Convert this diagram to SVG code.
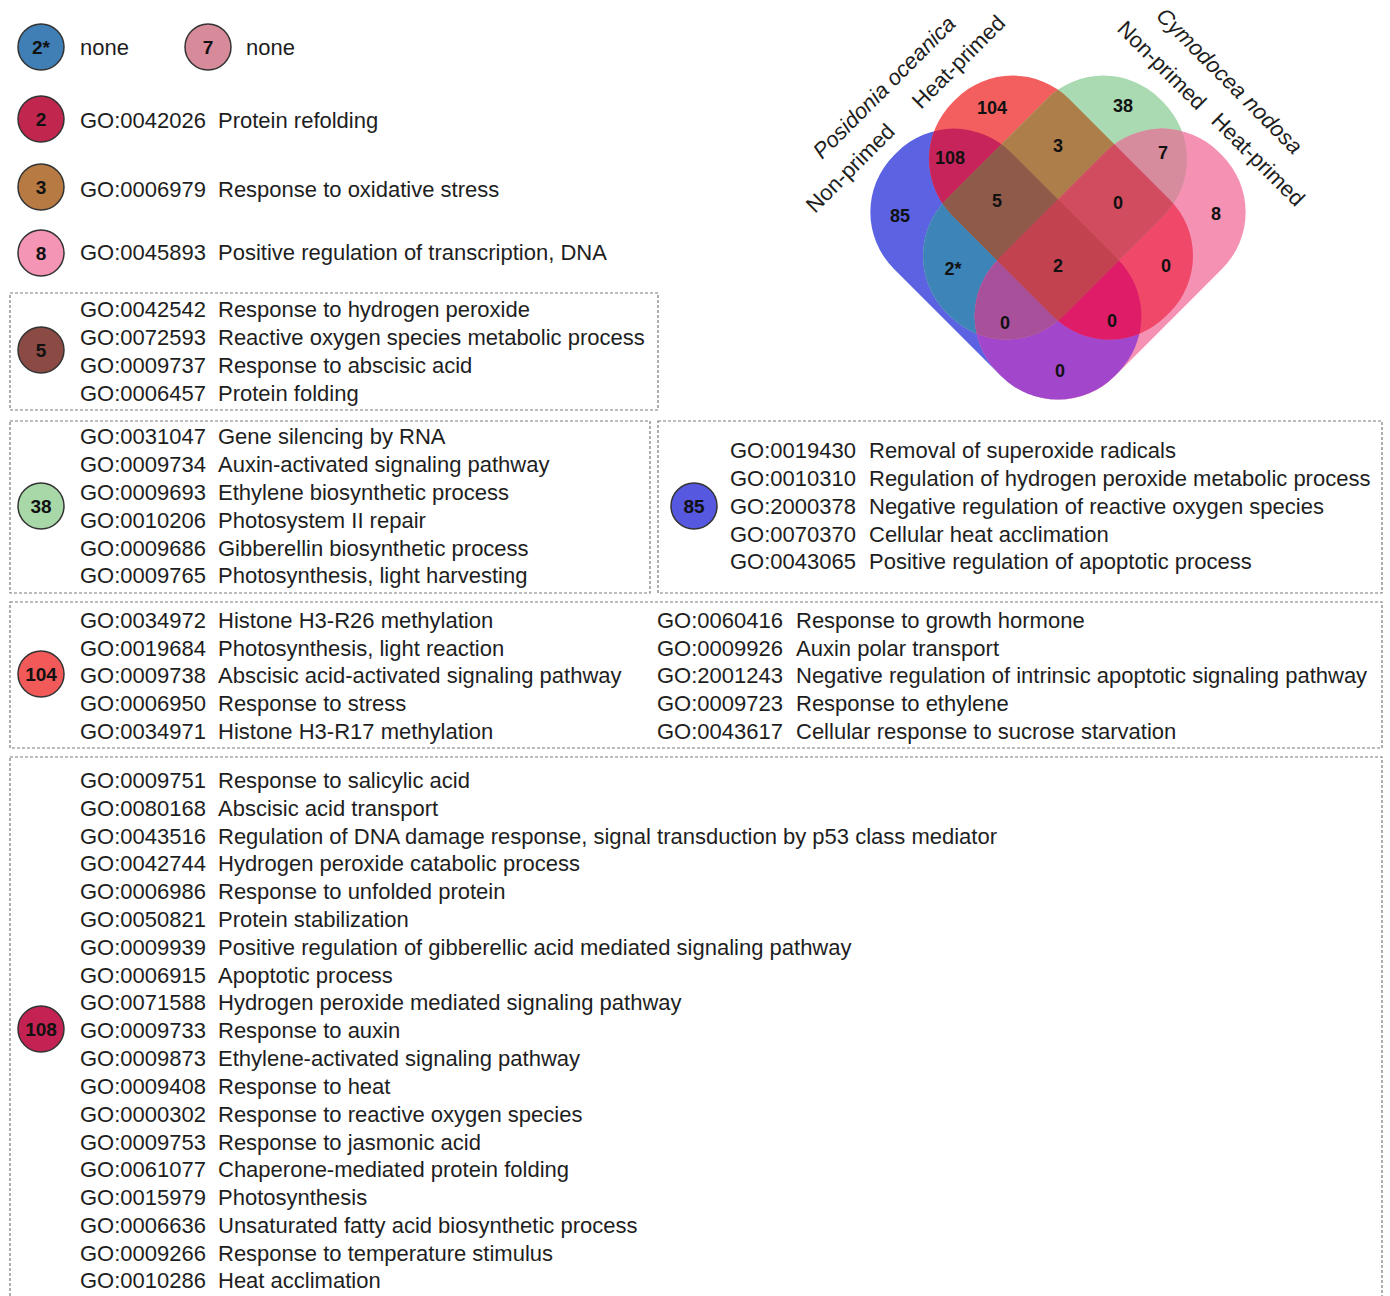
<svg xmlns="http://www.w3.org/2000/svg" xmlns:xlink="http://www.w3.org/1999/xlink" width="1390" height="1296" viewBox="0 0 1390 1296">
<style>
.t{font-family:"Liberation Sans",Arial,sans-serif;font-size:22px;fill:#1e1e1e}
.n{font-family:"Liberation Sans",Arial,sans-serif;font-weight:bold;font-size:19px;fill:#111;text-anchor:middle}
.v{font-family:"Liberation Sans",Arial,sans-serif;font-weight:bold;font-size:18px;fill:#111;text-anchor:middle}
.lab{font-family:"Liberation Sans",Arial,sans-serif;font-size:22px;fill:#1e1e1e}
.it{font-style:italic}
.box{fill:none;stroke:#7a7a7a;stroke-width:1.2;stroke-dasharray:3 2}
.c{stroke:#333;stroke-width:1.5}
</style>
<defs>
<rect id="sB" x="742" y="-607" width="312" height="165" rx="80" transform="rotate(45)"/>
<rect id="sR" x="746" y="-686" width="302" height="165" rx="80" transform="rotate(45)"/>
<rect id="sG" x="746" y="-686" width="302" height="165" rx="80" transform="translate(2116 0) scale(-1 1) rotate(45)"/>
<rect id="sP" x="742" y="-607" width="312" height="165" rx="80" transform="translate(2116 0) scale(-1 1) rotate(45)"/>
<clipPath id="cB"><use xlink:href="#sB"/></clipPath>
<clipPath id="cR"><use xlink:href="#sR"/></clipPath>
<clipPath id="cG"><use xlink:href="#sG"/></clipPath>
<clipPath id="cP"><use xlink:href="#sP"/></clipPath>
</defs>
<rect width="1390" height="1296" fill="#fff"/>

<g id="venn">
<g id="venn-regions">
<use xlink:href="#sB" fill="#5b63e3"/>
<use xlink:href="#sR" fill="#f35f5f"/>
<use xlink:href="#sG" fill="#a9dab1"/>
<use xlink:href="#sP" fill="#f592b4"/>
<g clip-path="url(#cB)"><use xlink:href="#sR" fill="#c8245c"/></g>
<g clip-path="url(#cB)"><use xlink:href="#sG" fill="#3d85b8"/></g>
<g clip-path="url(#cB)"><use xlink:href="#sP" fill="#a246cc"/></g>
<g clip-path="url(#cR)"><use xlink:href="#sG" fill="#ad7d4a"/></g>
<g clip-path="url(#cR)"><use xlink:href="#sP" fill="#ef4868"/></g>
<g clip-path="url(#cG)"><use xlink:href="#sP" fill="#d68c9c"/></g>
<g clip-path="url(#cB)"><g clip-path="url(#cR)"><use xlink:href="#sG" fill="#8f5a4a"/></g></g>
<g clip-path="url(#cB)"><g clip-path="url(#cR)"><use xlink:href="#sP" fill="#de1c68"/></g></g>
<g clip-path="url(#cB)"><g clip-path="url(#cG)"><use xlink:href="#sP" fill="#a9509a"/></g></g>
<g clip-path="url(#cR)"><g clip-path="url(#cG)"><use xlink:href="#sP" fill="#d04c5e"/></g></g>
<g clip-path="url(#cB)"><g clip-path="url(#cR)"><g clip-path="url(#cG)"><use xlink:href="#sP" fill="#c2424f"/></g></g></g>
</g>
<text class="v" x="992" y="114">104</text>
<text class="v" x="1123" y="112">38</text>
<text class="v" x="950" y="164">108</text>
<text class="v" x="1058" y="152">3</text>
<text class="v" x="1163" y="159">7</text>
<text class="v" x="900" y="222">85</text>
<text class="v" x="997" y="207">5</text>
<text class="v" x="1118" y="209">0</text>
<text class="v" x="1216" y="220">8</text>
<text class="v" x="953" y="275">2*</text>
<text class="v" x="1058" y="272">2</text>
<text class="v" x="1166" y="272">0</text>
<text class="v" x="1005" y="329">0</text>
<text class="v" x="1112" y="327">0</text>
<text class="v" x="1060" y="377">0</text>
<text class="lab it" transform="translate(822 160) rotate(-45)">Posidonia oceanica</text>
<text class="lab" transform="translate(815 214) rotate(-45)">Non-primed</text>
<text class="lab" transform="translate(921 110) rotate(-45)">Heat-primed</text>
<text class="lab it" transform="translate(1155 17) rotate(45)">Cymodocea nodosa</text>
<text class="lab" transform="translate(1116 30) rotate(45)">Non-primed</text>
<text class="lab" transform="translate(1210 122) rotate(45)">Heat-primed</text>
</g>

<g id="node-2star">
<circle class="c" cx="41" cy="47" r="23" fill="#3f7fb5"/>
<text class="n" x="41" y="54">2*</text>
<text class="t" x="80" y="55">none</text>
</g>
<g id="node-7">
<circle class="c" cx="208" cy="47" r="23" fill="#d68a9a"/>
<text class="n" x="208" y="54">7</text>
<text class="t" x="246" y="55">none</text>
</g>
<g id="node-2">
<circle class="c" cx="41" cy="119" r="23" fill="#c0264e"/>
<text class="n" x="41" y="126">2</text>
<text class="t" y="128"><tspan x="80">GO:0042026</tspan><tspan x="218">Protein refolding</tspan></text>
</g>
<g id="node-3">
<circle class="c" cx="41" cy="187" r="23" fill="#b77a42"/>
<text class="n" x="41" y="194">3</text>
<text class="t" y="197"><tspan x="80">GO:0006979</tspan><tspan x="218">Response to oxidative stress</tspan></text>
</g>
<g id="node-8">
<circle class="c" cx="41" cy="253" r="23" fill="#f595b5"/>
<text class="n" x="41" y="260">8</text>
<text class="t" y="260"><tspan x="80">GO:0045893</tspan><tspan x="218">Positive regulation of transcription, DNA</tspan></text>
</g>

<g id="node-5">
<rect class="box" x="10" y="293" width="648" height="117"/>
<circle class="c" cx="41" cy="350" r="23" fill="#8c4a45"/>
<text class="n" x="41" y="357">5</text>
<text class="t" y="317"><tspan x="80">GO:0042542</tspan><tspan x="218">Response to hydrogen peroxide</tspan></text>
<text class="t" y="345"><tspan x="80">GO:0072593</tspan><tspan x="218">Reactive oxygen species metabolic process</tspan></text>
<text class="t" y="373"><tspan x="80">GO:0009737</tspan><tspan x="218">Response to abscisic acid</tspan></text>
<text class="t" y="401"><tspan x="80">GO:0006457</tspan><tspan x="218">Protein folding</tspan></text>
</g>

<g id="node-38">
<rect class="box" x="10" y="421" width="640" height="172"/>
<circle class="c" cx="41" cy="506" r="23" fill="#a8d8a8"/>
<text class="n" x="41" y="513">38</text>
<text class="t" y="444"><tspan x="80">GO:0031047</tspan><tspan x="218">Gene silencing by RNA</tspan></text>
<text class="t" y="472"><tspan x="80">GO:0009734</tspan><tspan x="218">Auxin-activated signaling pathway</tspan></text>
<text class="t" y="500"><tspan x="80">GO:0009693</tspan><tspan x="218">Ethylene biosynthetic process</tspan></text>
<text class="t" y="528"><tspan x="80">GO:0010206</tspan><tspan x="218">Photosystem II repair</tspan></text>
<text class="t" y="556"><tspan x="80">GO:0009686</tspan><tspan x="218">Gibberellin biosynthetic process</tspan></text>
<text class="t" y="583"><tspan x="80">GO:0009765</tspan><tspan x="218">Photosynthesis, light harvesting</tspan></text>
</g>

<g id="node-85">
<rect class="box" x="658" y="421" width="724" height="172"/>
<circle class="c" cx="694" cy="506" r="23" fill="#5658e0"/>
<text class="n" x="694" y="513">85</text>
<text class="t" y="458"><tspan x="730">GO:0019430</tspan><tspan x="869">Removal of superoxide radicals</tspan></text>
<text class="t" y="486"><tspan x="730">GO:0010310</tspan><tspan x="869">Regulation of hydrogen peroxide metabolic process</tspan></text>
<text class="t" y="514"><tspan x="730">GO:2000378</tspan><tspan x="869">Negative regulation of reactive oxygen species</tspan></text>
<text class="t" y="542"><tspan x="730">GO:0070370</tspan><tspan x="869">Cellular heat acclimation</tspan></text>
<text class="t" y="569"><tspan x="730">GO:0043065</tspan><tspan x="869">Positive regulation of apoptotic process</tspan></text>
</g>

<g id="node-104">
<rect class="box" x="10" y="602" width="1372" height="146"/>
<circle class="c" cx="41" cy="674" r="23" fill="#f25a5a"/>
<text class="n" x="41" y="681">104</text>
<text class="t" y="628"><tspan x="80">GO:0034972</tspan><tspan x="218">Histone H3-R26 methylation</tspan></text>
<text class="t" y="656"><tspan x="80">GO:0019684</tspan><tspan x="218">Photosynthesis, light reaction</tspan></text>
<text class="t" y="683"><tspan x="80">GO:0009738</tspan><tspan x="218">Abscisic acid-activated signaling pathway</tspan></text>
<text class="t" y="711"><tspan x="80">GO:0006950</tspan><tspan x="218">Response to stress</tspan></text>
<text class="t" y="739"><tspan x="80">GO:0034971</tspan><tspan x="218">Histone H3-R17 methylation</tspan></text>
<text class="t" y="628"><tspan x="657">GO:0060416</tspan><tspan x="796">Response to growth hormone</tspan></text>
<text class="t" y="656"><tspan x="657">GO:0009926</tspan><tspan x="796">Auxin polar transport</tspan></text>
<text class="t" y="683"><tspan x="657">GO:2001243</tspan><tspan x="796">Negative regulation of intrinsic apoptotic signaling pathway</tspan></text>
<text class="t" y="711"><tspan x="657">GO:0009723</tspan><tspan x="796">Response to ethylene</tspan></text>
<text class="t" y="739"><tspan x="657">GO:0043617</tspan><tspan x="796">Cellular response to sucrose starvation</tspan></text>
</g>

<g id="node-108">
<rect class="box" x="10" y="757" width="1372" height="560"/>
<circle class="c" cx="41" cy="1029" r="23" fill="#c42252"/>
<text class="n" x="41" y="1036">108</text>
<text class="t" y="788"><tspan x="80">GO:0009751</tspan><tspan x="218">Response to salicylic acid</tspan></text>
<text class="t" y="816"><tspan x="80">GO:0080168</tspan><tspan x="218">Abscisic acid transport</tspan></text>
<text class="t" y="844"><tspan x="80">GO:0043516</tspan><tspan x="218">Regulation of DNA damage response, signal transduction by p53 class mediator</tspan></text>
<text class="t" y="871"><tspan x="80">GO:0042744</tspan><tspan x="218">Hydrogen peroxide catabolic process</tspan></text>
<text class="t" y="899"><tspan x="80">GO:0006986</tspan><tspan x="218">Response to unfolded protein</tspan></text>
<text class="t" y="927"><tspan x="80">GO:0050821</tspan><tspan x="218">Protein stabilization</tspan></text>
<text class="t" y="955"><tspan x="80">GO:0009939</tspan><tspan x="218">Positive regulation of gibberellic acid mediated signaling pathway</tspan></text>
<text class="t" y="983"><tspan x="80">GO:0006915</tspan><tspan x="218">Apoptotic process</tspan></text>
<text class="t" y="1010"><tspan x="80">GO:0071588</tspan><tspan x="218">Hydrogen peroxide mediated signaling pathway</tspan></text>
<text class="t" y="1038"><tspan x="80">GO:0009733</tspan><tspan x="218">Response to auxin</tspan></text>
<text class="t" y="1066"><tspan x="80">GO:0009873</tspan><tspan x="218">Ethylene-activated signaling pathway</tspan></text>
<text class="t" y="1094"><tspan x="80">GO:0009408</tspan><tspan x="218">Response to heat</tspan></text>
<text class="t" y="1122"><tspan x="80">GO:0000302</tspan><tspan x="218">Response to reactive oxygen species</tspan></text>
<text class="t" y="1150"><tspan x="80">GO:0009753</tspan><tspan x="218">Response to jasmonic acid</tspan></text>
<text class="t" y="1177"><tspan x="80">GO:0061077</tspan><tspan x="218">Chaperone-mediated protein folding</tspan></text>
<text class="t" y="1205"><tspan x="80">GO:0015979</tspan><tspan x="218">Photosynthesis</tspan></text>
<text class="t" y="1233"><tspan x="80">GO:0006636</tspan><tspan x="218">Unsaturated fatty acid biosynthetic process</tspan></text>
<text class="t" y="1261"><tspan x="80">GO:0009266</tspan><tspan x="218">Response to temperature stimulus</tspan></text>
<text class="t" y="1288"><tspan x="80">GO:0010286</tspan><tspan x="218">Heat acclimation</tspan></text>
</g>
</svg>
